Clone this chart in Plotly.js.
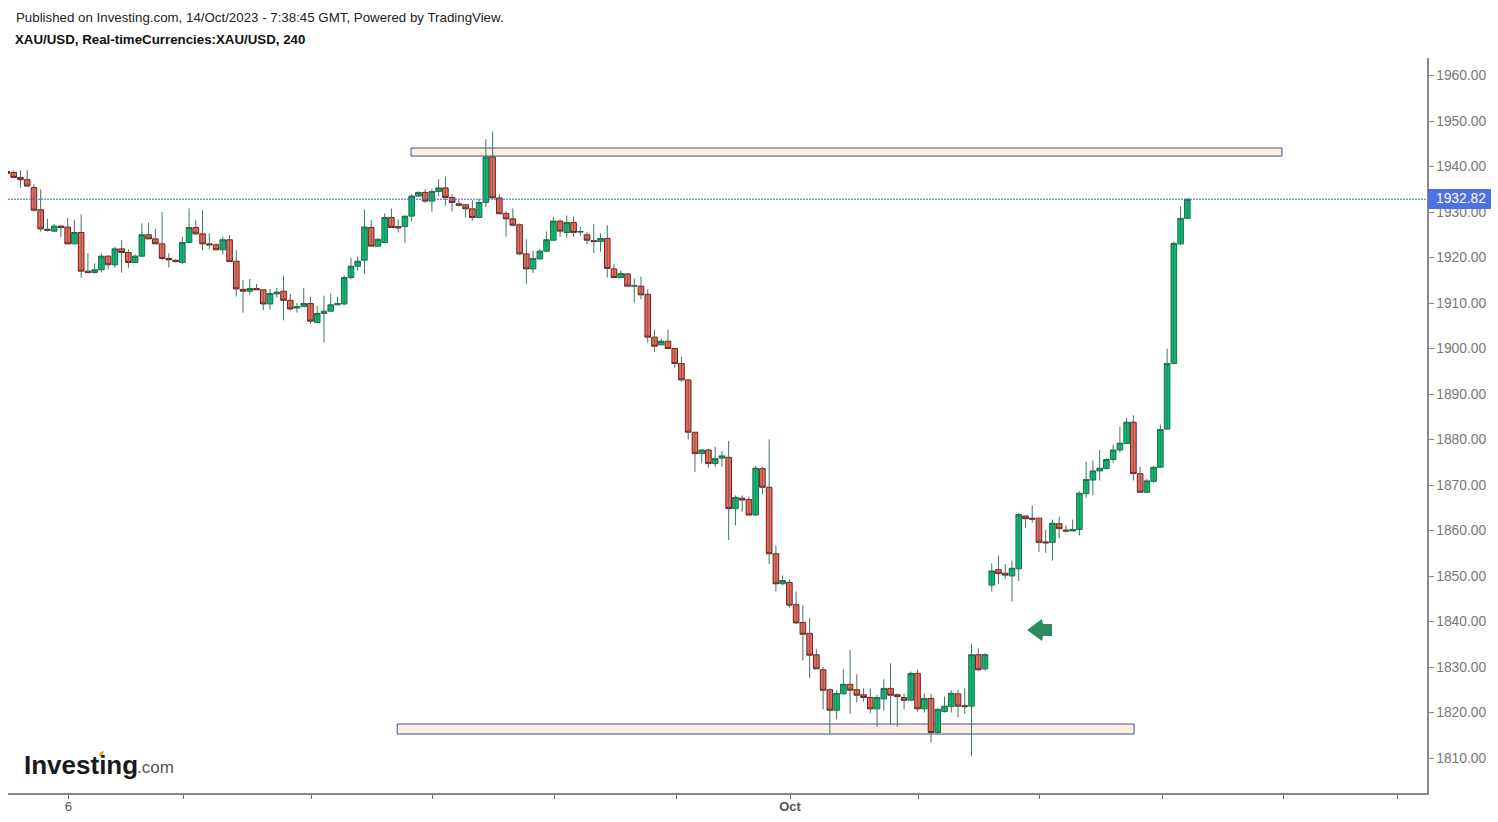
<!DOCTYPE html>
<html>
<head>
<meta charset="utf-8">
<script src="https://cdn.plot.ly/plotly-3.0.1.min.js"></script>
<style>
  html, body { margin: 0; padding: 0; background: #fff; }
  #plot { width: 1498px; height: 822px; }
</style>
</head>
<body>
<div id="plot"></div>
<script>
// XAU/USD 4h candles, oldest first
let open = [1938.9,1938.7,1937.6,1937.1,1935.4,1930.5,1926.2,1925.8,1926.9,1926.7,1923.0,1925.5,1917.0,1916.7,1917.3,1920.3,1918.4,1921.9,1921.1,1918.9,1920.3,1925.0,1924.1,1923.0,1919.8,1919.4,1918.9,1923.3,1926.6,1925.2,1923.0,1922.8,1921.7,1923.9,1919.2,1913.0,1912.6,1913.2,1912.9,1909.8,1912.0,1912.6,1910.6,1908.9,1909.2,1909.9,1905.7,1907.7,1908.2,1909.6,
  1909.8,1915.6,1918.1,1919.4,1926.6,1922.5,1923.3,1928.8,1926.8,1926.8,1929.1,1933.5,1934.3,1932.4,1934.5,1935.3,1933.2,1931.8,1931.6,1930.7,1928.8,1932.1,1942.1,1933.1,1929.7,1928.5,1927.2,1920.8,1917.5,1919.7,1921.4,1923.8,1928.0,1925.5,1927.7,1925.6,1925.0,1923.7,1923.5,1924.2,1917.5,1915.6,1916.4,1913.7,1913.7,1911.9,1902.5,1900.8,1901.6,1900.0,
  1896.7,1893.1,1881.6,1876.9,1877.7,1874.7,1875.9,1876.1,1864.8,1867.1,1866.8,1863.4,1873.6,1869.5,1854.9,1848.3,1848.6,1843.7,1839.8,1837.4,1832.7,1829.4,1825.0,1820.5,1824.1,1826.2,1825.0,1823.9,1823.3,1820.8,1823.0,1825.3,1823.9,1823.3,1822.7,1828.6,1820.8,1823.1,1815.6,1820.2,1821.3,1824.1,1821.5,1821.4,1832.7,1829.6,
  1848.0,1851.4,1850.6,1850.0,1851.6,1863.2,1862.7,1862.7,1857.5,1857.4,1861.5,1860.1,1859.9,1860.2,1868.1,1871.1,1873.1,1873.6,1875.6,1877.7,1879.1,1883.8,1872.5,1868.4,1870.8,1873.9,1882.3,1896.7,1923.0,1928.6];
let close = [1938.5,1937.6,1937.1,1935.7,1930.4,1926.3,1926.0,1926.9,1926.6,1923.0,1925.5,1917.0,1916.7,1917.3,1920.3,1918.4,1921.9,1921.1,1918.9,1920.3,1925.0,1924.1,1923.0,1919.8,1919.5,1919.1,1923.3,1926.6,1925.2,1923.0,1922.8,1921.7,1923.9,1919.1,1913.1,1912.6,1913.2,1912.9,1909.8,1912.1,1912.4,1910.6,1908.7,1909.2,1909.9,1906.0,1907.7,1908.2,1909.6,1909.9,
  1915.6,1918.1,1919.2,1926.7,1922.5,1924.0,1928.8,1926.6,1926.5,1929.1,1933.5,1934.3,1932.4,1934.5,1935.3,1933.2,1932.1,1931.5,1930.7,1928.8,1932.1,1942.1,1933.1,1929.6,1928.5,1927.1,1920.8,1917.5,1919.8,1921.4,1923.9,1928.0,1925.8,1927.7,1925.5,1925.7,1923.8,1923.5,1924.2,1917.6,1915.6,1916.5,1913.7,1913.8,1911.8,1902.5,1900.5,1901.6,1900.0,1896.7,
  1893.1,1881.6,1876.9,1877.7,1874.7,1875.8,1876.4,1864.8,1867.3,1866.7,1863.4,1873.7,1869.5,1854.9,1848.3,1849.0,1843.6,1839.7,1837.2,1832.6,1829.6,1824.9,1820.5,1824.2,1826.2,1824.9,1823.8,1823.3,1820.8,1823.3,1825.3,1823.8,1823.5,1822.7,1828.6,1820.8,1823.1,1815.6,1820.7,1821.4,1824.2,1821.4,1821.3,1832.7,1829.4,1832.7,
  1851.1,1850.5,1850.2,1851.7,1863.5,1862.6,1862.5,1857.4,1857.3,1861.6,1860.4,1859.9,1860.2,1868.2,1871.2,1873.1,1873.7,1875.6,1877.7,1879.2,1883.8,1872.5,1868.4,1870.9,1873.9,1882.2,1896.7,1923.1,1928.6,1932.82];
let high = [1939.0,1939.1,1939.2,1939.2,1936.1,1935.0,1928.5,1927.4,1927.1,1928.7,1928.2,1929.5,1921.0,1918.7,1920.9,1920.5,1922.4,1923.8,1921.8,1920.7,1927.5,1927.6,1926.3,1930.0,1920.9,1919.6,1924.5,1930.8,1928.2,1930.4,1925.3,1923.1,1924.6,1924.9,1921.6,1915.0,1915.3,1914.2,1912.9,1913.1,1913.3,1916.0,1912.0,1910.0,1913.3,1911.4,1909.4,1911.6,1912.1,1911.4,
  1916.1,1919.9,1920.2,1930.6,1928.2,1924.3,1929.7,1930.8,1928.4,1929.1,1933.9,1934.5,1935.0,1935.0,1937.2,1937.8,1933.9,1932.6,1931.8,1932.6,1932.9,1946.0,1947.7,1933.9,1930.2,1930.8,1927.5,1924.0,1921.5,1921.8,1925.7,1928.9,1928.4,1929.2,1929.0,1926.7,1925.5,1927.4,1925.3,1927.1,1918.5,1917.2,1916.6,1915.4,1915.8,1913.0,1904.1,1902.2,1904.2,1900.0,
  1898.2,1893.2,1881.6,1877.8,1878.0,1878.4,1877.5,1879.7,1867.7,1867.7,1867.4,1874.2,1874.0,1880.0,1856.7,1850.1,1849.3,1846.6,1843.5,1840.7,1833.9,1830.0,1825.3,1824.9,1829.5,1833.7,1828.4,1825.3,1825.3,1823.9,1827.3,1830.8,1824.2,1824.2,1829.0,1829.5,1824.2,1824.1,1820.9,1823.5,1824.9,1824.9,1825.3,1835.0,1834.1,1833.0,
  1852.8,1854.5,1852.6,1853.4,1863.8,1863.2,1865.5,1862.7,1860.1,1862.4,1863.0,1861.1,1862.4,1868.6,1875.1,1875.4,1877.7,1875.9,1878.9,1882.8,1884.7,1885.3,1874.0,1871.4,1874.2,1883.3,1900.0,1923.5,1931.2,1932.82];
let low = [1938.3,1937.6,1935.3,1935.6,1930.1,1925.7,1925.7,1925.6,1924.5,1922.9,1923.0,1915.6,1916.5,1916.5,1916.7,1917.4,1917.7,1916.7,1917.7,1918.9,1920.2,1924.0,1923.0,1919.4,1917.8,1918.9,1918.6,1923.3,1924.9,1921.6,1921.8,1921.6,1920.7,1919.1,1911.4,1907.9,1911.9,1912.9,1908.4,1908.6,1911.2,1906.2,1908.3,1907.9,1909.2,1905.4,1905.7,1901.3,1908.1,1909.5,
  1909.5,1915.2,1917.1,1916.4,1922.4,1922.4,1923.2,1926.5,1925.5,1923.2,1927.9,1933.4,1932.0,1930.1,1933.5,1931.4,1930.1,1931.2,1928.8,1928.1,1928.8,1931.1,1933.1,1929.6,1924.6,1926.8,1920.5,1914.2,1916.6,1919.6,1921.3,1923.8,1924.6,1924.4,1924.6,1924.8,1922.9,1921.0,1921.3,1915.6,1915.6,1915.6,1913.6,1910.1,1910.8,1901.3,1899.3,1900.8,1899.8,1895.8,
  1892.7,1880.0,1872.9,1874.9,1873.8,1874.0,1874.0,1857.9,1861.1,1864.1,1863.4,1863.4,1868.0,1852.6,1846.6,1848.0,1843.0,1839.4,1831.4,1827.6,1829.5,1820.7,1815.4,1818.5,1824.1,1819.7,1822.2,1822.4,1819.9,1816.9,1820.4,1817.4,1816.9,1820.7,1822.7,1820.2,1820.0,1813.4,1815.2,1820.0,1820.0,1818.9,1819.7,1810.5,1829.1,1829.2,
  1846.6,1848.2,1849.3,1844.4,1848.9,1860.6,1861.7,1855.3,1855.1,1853.4,1858.3,1859.5,1859.9,1858.9,1867.2,1867.7,1871.0,1873.5,1874.9,1877.1,1879.1,1871.0,1868.4,1868.4,1870.5,1873.9,1882.2,1896.7,1922.7,1928.6];

// Tick positions as candle numbers, only two of them carry a label
let tickCandles = [10.1,27.15,46.08,64.06,82.25,100.2,117.1,136.07,154.15,172.25,190.2,207.2];
let tickLabels = ["6","","","","","","<b>Oct</b>","","","","",""];
let priceTicks = [1810,1820,1830,1840,1850,1860,1870,1880,1890,1900,1910,1920,1930,1940,1950,1960];
let lastPrice = 1932.82;

let candleNo = open.map((v, i) => i + 1);

// plot box in page pixels
const L = 8, R = 1427, T = 58, B = 793;
const px = x => (x - L) / (R - L);
const py = y => (B - y) / (B - T);

// wicks are one dark green on both up and down candles, so they get their own trace
let wickX = [], wickY = [];
for (let i = 0; i < candleNo.length; i++) {
  wickX.push(candleNo[i], candleNo[i], null);
  wickY.push(high[i], low[i], null);
}
let wicks = {
  x: wickX, y: wickY, type: "scatter", mode: "lines",
  line: {color: "#3f7560", width: 1}, hoverinfo: "skip", showlegend: false
};

// bodies only, high/low clipped to the body
let bodies = {
  x: candleNo, open: open, close: close,
  high: open.map((v, i) => Math.max(v, close[i])),
  low: open.map((v, i) => Math.min(v, close[i])),
  type: "candlestick", whiskerwidth: 0, showlegend: false,
  increasing: {line: {color: "#1d6b48", width: 1}, fillcolor: "#00c176"},
  decreasing: {line: {color: "#6e1f1b", width: 1}, fillcolor: "#ff6358"}
};

function zone(x0, x1, y0, y1) {
  return {type: "rect", xref: "x", yref: "y", x0: x0, x1: x1, y0: y0, y1: y1, layer: "below",
    fillcolor: "#fdf0dc", line: {color: "#3a50a5", width: 1}};
}

function pagePath(points) {
  return "M" + points.map(p => px(p[0]) + "," + py(p[1])).join("L") + "Z";
}

function label(text, x, y, size, color, bold) {
  return {text: bold ? "<b>" + text + "</b>" : text, xref: "paper", yref: "paper", x: px(x), y: py(y),
    xanchor: "left", yanchor: "middle", showarrow: false,
    font: {family: "Liberation Sans", size: size, color: color}};
}

let layout = {
  width: 1498, height: 822,
  margin: {l: L, r: 1498 - R, t: T, b: 822 - B, pad: 0},
  paper_bgcolor: "#fff", plot_bgcolor: "#fff",
  showlegend: false, boxgap: 0.06, boxgroupgap: 0.12, dragmode: false,
  font: {family: "Liberation Sans", size: 14, color: "#777"},
  xaxis: {
    range: [1.155, 211.53], showgrid: false, zeroline: false, rangeslider: {visible: false},
    tickmode: "array", tickvals: tickCandles, ticktext: tickLabels,
    ticks: "outside", ticklen: 4, tickcolor: "#666", tickwidth: 1,
    ticklabelstandoff: -3,
    showline: true, linecolor: "#888", linewidth: 1.5,
    tickfont: {size: 13, color: "#555"}
  },
  yaxis: {
    side: "right", range: [1802.31, 1963.85], showgrid: false, zeroline: false,
    tickmode: "array", tickvals: priceTicks, tickformat: ".2f",
    ticks: "outside", ticklen: 5, tickcolor: "#888", tickwidth: 1,
    showline: true, linecolor: "#888", linewidth: 1.5,
    tickfont: {size: 13.8, color: "#777"}
  },
  shapes: [
    zone(60.9, 190.03, 1942.3, 1944.07),
    zone(58.86, 168.1, 1815.27, 1817.47),
    {type: "line", xref: "paper", yref: "y", x0: 0, x1: 1, y0: lastPrice, y1: lastPrice,
      line: {color: "#3366ee", width: 1, dash: "2px,1px"}},
    // last price tag
    {type: "rect", xref: "paper", yref: "paper", x0: px(1428), x1: px(1491), y0: py(209), y1: py(189),
      fillcolor: "#4e71e4", line: {width: 0}},
    // arrow
    {type: "path", xref: "paper", yref: "paper", fillcolor: "#2f8a5e", line: {width: 0},
      path: pagePath([[1027,630],[1042,619],[1043,624],[1052,624],[1052,636],[1043,636],[1042,641]])},
    // orange dot of the logo
    {type: "path", xref: "paper", yref: "paper", fillcolor: "#f7a21b", line: {width: 0},
      path: pagePath([[100,752],[104,751],[103,755],[99,756]])}
  ],
  annotations: [
    label("Published on Investing.com, 14/Oct/2023 - 7:38:45 GMT, Powered by TradingView.", 14, 17, 13.3, "#222"),
    label("XAU/USD, Real-timeCurrencies:XAU/USD, 240", 13, 40, 13.3, "#111", true),
    label(lastPrice.toFixed(2), 1434, 199, 13.8, "#fff"),
    label("Investing", 22, 765, 26, "#1a1a1a", true),
    label(".com", 135, 767, 17, "#555")
  ]
};

Plotly.newPlot("plot", [wicks, bodies], layout, {displayModeBar: false, staticPlot: true});
</script>
</body>
</html>
